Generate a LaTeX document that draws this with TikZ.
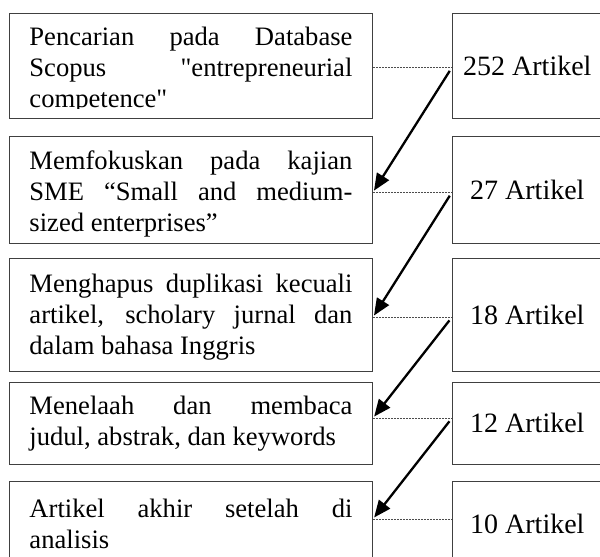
\documentclass[tikz,border=0pt]{standalone}
\usepackage{fontspec}
\setmainfont{Liberation Serif}
\usetikzlibrary{positioning, arrows.meta}
\newcommand{\topgap}[1]{\rule{0pt}{#1}}
\tikzset{
	boxline/.style={
		draw=black!75,
		line width=.9pt
	},
	stagebox/.style={
		boxline,
		text width=323pt,
		inner xsep=20pt,
		inner ysep=0pt,
		align=justify,
		font=\fontsize{26.6}{31}\selectfont
	},
	tallybox/.style={
		boxline,
		minimum width=150pt,
		inner sep=0pt,
		font=\fontsize{28}{32}\selectfont
	},
	leader/.style={
		black!70,
		line width=.8pt,
		dash pattern=on 2pt off 1pt
	},
	flow/.style={
		-{Triangle[length=17pt,width=14pt]},
		line width=2.3pt,
		shorten <=4pt,
		shorten >=2pt
	}
}

\begin{document}
\begin{tikzpicture}[x=1pt, y=-1pt]
\useasboundingbox (0,0) rectangle (600,557);
% ---
% selection steps
% ---
\begin{scope}
\clip (0,0) rectangle (600,108.5);
\node[stagebox, draw=none, minimum height=105pt, anchor=north west] at (9,13) (s1) {\topgap{27pt}Pencarian pada Database\linebreak Scopus \textquotedbl entrepreneurial\linebreak competence\textquotedbl};
\end{scope}
\draw[boxline] (s1.north west) rectangle (s1.south east);
\node[stagebox, minimum height=107pt, below=17pt of s1] (s2) {\topgap{27pt}Memfokuskan pada kajian\linebreak SME “Small and medium-\linebreak sized enterprises”};
\node[stagebox, minimum height=113pt, below=14pt of s2] (s3) {\topgap{23pt}Menghapus duplikasi kecuali\linebreak artikel, scholary jurnal dan\linebreak dalam bahasa Inggris};
\node[stagebox, minimum height=82pt, below=10pt of s3] (s4) {Menelaah dan membaca\linebreak judul, abstrak, dan keywords};
\node[stagebox, minimum height=85pt, below=16pt of s4] (s5) {Artikel akhir setelah di\linebreak analisis};

% ---
% article counts
% ---
\node[tallybox, minimum height=105pt, right=79pt of s1] (n1) {252 Artikel};
\node[tallybox, minimum height=107pt, right=79pt of s2] (n2) {27 Artikel};
\node[tallybox, minimum height=113pt, right=79pt of s3] (n3) {18 Artikel};
\node[tallybox, minimum height=82pt, right=79pt of s4] (n4) {12 Artikel};
\node[tallybox, minimum height=85pt, right=79pt of s5] (n5) {10 Artikel};

\coordinate (a1) at ([yshift=-1.5pt]s1.east);
\coordinate (a2) at ([yshift=-2.5pt]s2.east);
\coordinate (a3) at ([yshift=-2.5pt]s3.east);
\coordinate (a4) at ([yshift=5pt]s4.east);
\coordinate (a5) at ([yshift=4.5pt]s5.east);
\coordinate (b1) at (a1 -| n1.west);
\coordinate (b2) at (a2 -| n2.west);
\coordinate (b3) at (a3 -| n3.west);
\coordinate (b4) at (a4 -| n4.west);
\coordinate (b5) at (a5 -| n5.west);

\draw[leader] (a1) -- (b1);
\draw[leader] (a2) -- (b2);
\draw[leader] (a3) -- (b3);
\draw[leader] (a4) -- (b4);
\draw[leader] (a5) -- (b5);

\draw[flow] (b1) -- (a2);
\draw[flow] (b2) -- (a3);
\draw[flow] (b3) -- (a4);
\draw[flow] (b4) -- (a5);
\end{tikzpicture}
\end{document}
